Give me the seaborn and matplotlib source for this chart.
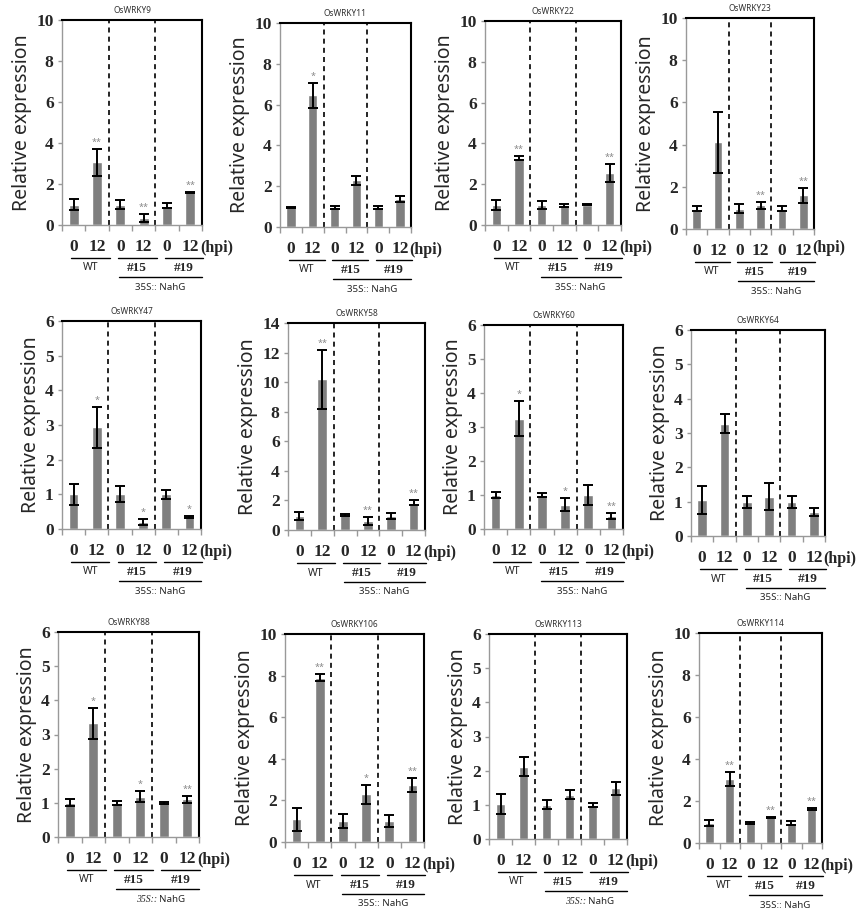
import matplotlib
matplotlib.use("Agg")
import matplotlib.pyplot as plt
import matplotlib.transforms as mtransforms
import pandas as pd
import seaborn as sns

# one panel per gene, 6 samples each: WT / #15 / #19 at 0 and 12 hpi
genes = ['OsWRKY9', 'OsWRKY11', 'OsWRKY22', 'OsWRKY23',
         'OsWRKY47', 'OsWRKY58', 'OsWRKY60', 'OsWRKY64',
         'OsWRKY88', 'OsWRKY106', 'OsWRKY113', 'OsWRKY114']
samples = ['WT_0', 'WT_12', '15_0', '15_12', '19_0', '19_12']
hours = ['0', '12', '0', '12', '0', '12']
lines = ['WT', '#15', '#19']
ymax = [10, 10, 10, 10, 6, 14, 6, 6, 6, 10, 6, 10]
ystep = [2, 2, 2, 2, 1, 2, 1, 1, 1, 2, 1, 2]

means = [
    [1.00, 3.05, 1.00, 0.35, 0.95, 1.60],
    [0.97, 6.45, 0.97, 2.30, 0.97, 1.37],
    [1.00, 3.30, 1.00, 0.97, 1.00, 2.55],
    [0.95, 4.10, 0.97, 1.12, 0.95, 1.60],
    [1.00, 2.93, 1.00, 0.20, 1.00, 0.35],
    [0.95, 10.2, 1.00, 0.60, 0.95, 1.85],
    [1.00, 3.25, 1.00, 0.72, 1.00, 0.38],
    [1.05, 3.27, 1.00, 1.15, 1.00, 0.70],
    [1.00, 3.33, 1.00, 1.18, 1.00, 1.10],
    [1.10, 7.90, 1.00, 2.30, 1.00, 2.75],
    [1.03, 2.12, 1.00, 1.30, 1.00, 1.48],
    [0.95, 3.05, 0.97, 1.22, 0.97, 1.62],
]
errors = [
    [0.25, 0.65, 0.22, 0.20, 0.10, 0.03],
    [0.02, 0.60, 0.08, 0.22, 0.08, 0.15],
    [0.25, 0.10, 0.20, 0.07, 0.03, 0.45],
    [0.12, 1.45, 0.22, 0.15, 0.12, 0.35],
    [0.30, 0.60, 0.23, 0.08, 0.13, 0.03],
    [0.25, 2.00, 0.08, 0.25, 0.20, 0.15],
    [0.10, 0.52, 0.07, 0.18, 0.30, 0.10],
    [0.40, 0.27, 0.17, 0.38, 0.17, 0.12],
    [0.10, 0.45, 0.06, 0.17, 0.02, 0.10],
    [0.55, 0.17, 0.35, 0.45, 0.30, 0.33],
    [0.30, 0.27, 0.13, 0.13, 0.05, 0.20],
    [0.13, 0.35, 0.05, 0.03, 0.10, 0.03],
]
stars = [
    ['', '**', '', '**', '', '**'],
    ['', '*', '', '', '', ''],
    ['', '**', '', '', '', '**'],
    ['', '', '', '**', '', '**'],
    ['', '*', '', '*', '', '*'],
    ['', '**', '', '**', '', '**'],
    ['', '*', '', '*', '', '**'],
    ['', '', '', '', '', ''],
    ['', '*', '', '*', '', '**'],
    ['', '**', '', '*', '', '**'],
    ['', '', '', '', '', ''],
    ['', '**', '', '**', '', '**'],
]
italic_35s = [False] * 8 + [True, False, True, False]

# axes boxes in pixels: left, top, right, bottom
boxes = [
    (62, 20, 202, 225), (280, 23, 411, 227), (485, 21, 621, 225), (686, 18, 814, 229),
    (62, 321, 201, 529), (288, 323, 425, 530), (484, 325, 623, 529), (691, 330, 825, 536),
    (58, 632, 199, 837), (285, 634, 424, 842), (489, 634, 627, 839), (699, 633, 822, 843),
]

sns.set_style('ticks')
plt.rcParams['font.family'] = ['Noto Sans', 'DejaVu Sans']

W, H = 856, 914
fig = plt.figure(figsize=(W / 100, H / 100), dpi=100)

serif = 'Liberation Serif'
gray = '#7f7f7f'

for i, gene in enumerate(genes):
    l, t, r, b = boxes[i]
    ax = fig.add_axes([l / W, 1 - b / H, (r - l) / W, (b - t) / H])
    df = pd.DataFrame({'sample': samples, 'expr': means[i]})
    sns.barplot(data=df, x='sample', y='expr', color=gray, saturation=1,
                width=0.42, errorbar=None, ax=ax)

    xs = [p.get_x() + p.get_width() / 2 for p in ax.patches]
    ax.errorbar(xs, means[i], yerr=errors[i], fmt='none', ecolor='black',
                elinewidth=1.4, capsize=3.5, capthick=1.4)
    for x, m, e, s in zip(xs, means[i], errors[i], stars[i]):
        if s:
            ax.text(x, m + e + ymax[i] * 0.01, s, ha='center', va='bottom',
                    color='#888888', fontsize=6.5)

    ax.set_xlim(-0.5, 5.5)
    ax.set_ylim(0, ymax[i])
    ax.set_yticks(range(0, ymax[i] + 1, ystep[i]))
    for xv in (1.5, 3.5):
        ax.axvline(xv, color='black', ls=(0, (3, 2.5)), lw=1.2)

    ax.set_xticks(range(6))
    ax.set_xticklabels(hours)
    ax.set_xticks([k - 0.5 for k in range(7)], minor=True)
    ax.tick_params(axis='x', which='major', length=0, pad=10)
    ax.tick_params(axis='x', which='minor', length=4, color='#999999', width=1)
    ax.tick_params(axis='y', length=3, color='#999999', width=1, pad=3)
    for lab in ax.get_xticklabels() + ax.get_yticklabels():
        lab.set_fontfamily(serif)
        lab.set_fontweight('bold')
        lab.set_fontsize(12.5)

    for side in ('left', 'bottom'):
        ax.spines[side].set_color('#999999')
        ax.spines[side].set_linewidth(1)
    for side in ('top', 'right'):
        ax.spines[side].set_color('black')
        ax.spines[side].set_linewidth(1.5)

    ax.set_xlabel('')
    ax.set_ylabel('Relative expression', fontsize=14, labelpad=3)
    ax.set_title(gene, fontsize=6, color='#333333', pad=5)

    def below(dy):
        return ax.get_xaxis_transform() + mtransforms.ScaledTranslation(
            0, -dy / 100, fig.dpi_scale_trans)

    hy = 19 if i == 3 else 23
    ax.text(5.42, 0, '(hpi)', transform=below(hy), ha='left', va='center',
            fontfamily=serif, fontweight='bold', fontsize=11.5, clip_on=False)
    for g, name in enumerate(lines):
        ax.plot([2 * g - 0.1, 2 * g + 1.55], [0, 0], transform=below(33),
                color='black', lw=1, clip_on=False)
        if g == 0:
            ax.text(2 * g + 0.72, 0, name, transform=below(43), ha='center',
                    va='center', fontsize=7.5, clip_on=False)
        else:
            ax.text(2 * g + 0.72, 0, name, transform=below(43), ha='center',
                    va='center', fontsize=9.5, fontfamily=serif,
                    fontweight='bold', clip_on=False)
    ax.plot([1.95, 5.5], [0, 0], transform=below(52), color='black', lw=1,
            clip_on=False)
    if italic_35s[i]:
        ax.text(3.72, 0, '35S::', transform=below(62), ha='right', va='center',
                fontsize=7, fontfamily=serif, style='italic', clip_on=False)
        ax.text(3.8, 0, 'NahG', transform=below(62), ha='left', va='center',
                fontsize=7, clip_on=False)
    else:
        ax.text(3.72, 0, '35S:: NahG', transform=below(62), ha='center',
                va='center', fontsize=7, clip_on=False)

fig.savefig('out.png', dpi=100)
